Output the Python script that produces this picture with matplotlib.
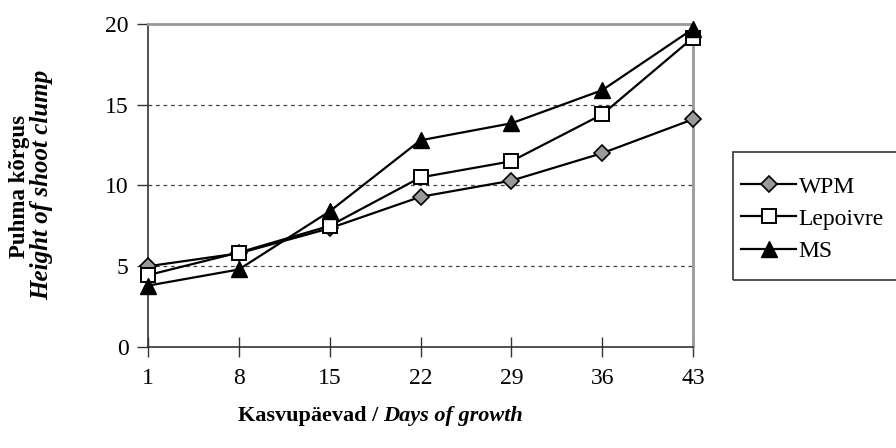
import numpy as np
import matplotlib.pyplot as plt
from matplotlib.patches import Rectangle

plt.rcParams['font.family'] = ['Liberation Serif', 'DejaVu Serif']

# Kasvupäevad / days of growth
days = ['1', '8', '15', '22', '29', '36', '43']
wpm = [5.0, 5.8, 7.35, 9.3, 10.3, 12.0, 14.1]
lepoivre = [4.45, 5.85, 7.5, 10.5, 11.5, 14.4, 19.15]
ms = [3.8, 4.8, 8.4, 12.8, 13.85, 15.9, 19.7]

fig = plt.figure(figsize=(8.96, 4.48), dpi=100)
ax = fig.add_axes([148 / 896, 1 - 347 / 448, 545 / 896, 323 / 448])

x = np.arange(len(days))
ax.plot(x, wpm, '-', color='black', lw=1.6, marker='D', ms=8,
        mfc='#999999', mec='black', mew=1.2, label='WPM', clip_on=False, zorder=3)
ax.plot(x, lepoivre, '-', color='black', lw=1.6, marker='s', ms=9.5,
        mfc='white', mec='black', mew=1.4, label='Lepoivre', clip_on=False, zorder=4)
ax.plot(x, ms, '-', color='black', lw=1.6, marker='^', ms=11,
        mfc='black', mec='black', label='MS', clip_on=False, zorder=5)

ax.set_xlim(0, len(days) - 1)
ax.set_ylim(0, 20)
ax.set_xticks(x)
ax.set_xticklabels(days)
ax.set_yticks([0, 5, 10, 15, 20])
for v in [5, 10, 15]:
    ax.axhline(v, color='#444444', lw=0.9, ls=(0, (3, 3)), zorder=1)

ax.spines['left'].set_color('#333333')
ax.spines['bottom'].set_color('#333333')
ax.spines['left'].set_linewidth(1.2)
ax.spines['bottom'].set_linewidth(1.2)
ax.spines['top'].set_color('#999999')
ax.spines['right'].set_color('#999999')
ax.spines['top'].set_linewidth(2)
ax.spines['right'].set_linewidth(2)

ax.tick_params(axis='x', direction='inout', length=14, width=1, color='#333333',
               labelsize=17, pad=8)
ax.tick_params(axis='y', direction='out', length=8, width=1, color='#333333',
               labelsize=17, pad=6)

fig.text(19 / 896, 1 - 186 / 448, 'Puhma kõrgus', rotation=90, fontsize=16.5,
         fontweight='bold', ha='center', va='center')
fig.text(42 / 896, 1 - 185 / 448, 'Height of shoot clump', rotation=90, fontsize=18,
         fontweight='bold', style='italic', ha='center', va='center')

fig.text(378 / 896, 1 - 416 / 448, 'Kasvupäevad /', fontsize=16, fontweight='bold',
         ha='right', va='center')
fig.text(383 / 896, 1 - 416 / 448, 'Days of growth', fontsize=16, fontweight='bold',
         style='italic', ha='left', va='center')

# legend frame drawn separately so its padding can match the reference
fig.patches.append(Rectangle((733 / 896, 1 - 280 / 448), 180 / 896, 128 / 448,
                             transform=fig.transFigure, fill=False,
                             edgecolor='#333333', lw=1.2))
leg = fig.legend(loc='upper left', bbox_to_anchor=(741 / 896, 1 - 176 / 448),
                 fontsize=17, frameon=False, handlelength=2.35,
                 handletextpad=0.1, borderpad=0, labelspacing=0.45,
                 borderaxespad=0)

fig.savefig('out.png', dpi=100)
